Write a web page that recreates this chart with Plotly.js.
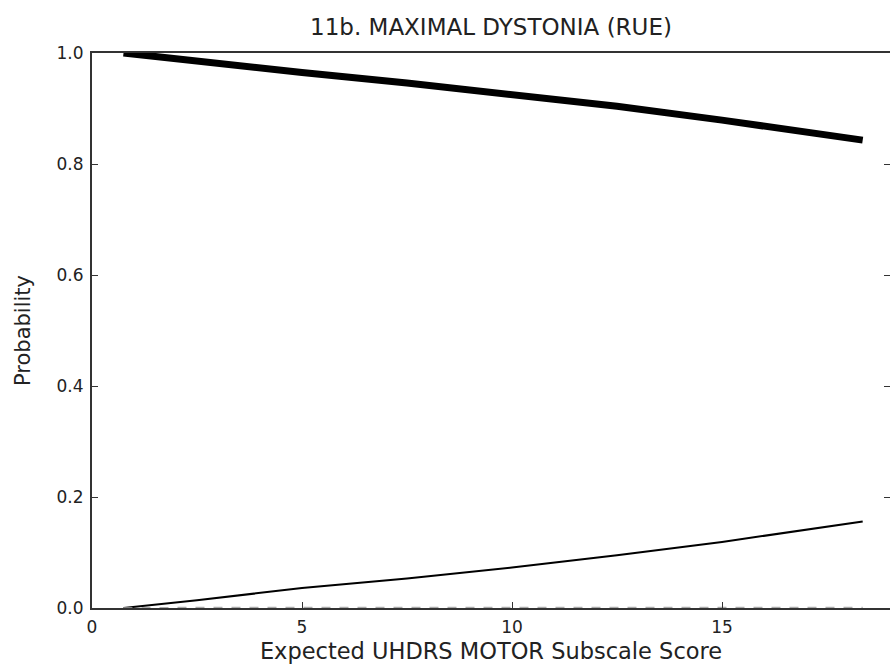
<!DOCTYPE html>
<html>
<head>
<meta charset="utf-8">
<script src="https://cdn.plot.ly/plotly-3.0.1.min.js"></script>
<style>
html,body{margin:0;padding:0;overflow:hidden;background:#fff;}
#chart{width:890px;height:669px;}
</style>
</head>
<body>
<div id="chart"></div>
<script>
// Expected UHDRS motor subscale score
const scoreX = [0.75, 2.5, 5, 7.5, 10, 12.5, 15, 18.35];
// Probability of category 0 (thick), 1 (thin), 2+ (dashed)
const probNone = [1.0, 0.985, 0.965, 0.946, 0.926, 0.904, 0.879, 0.843];
const probMild = [0.0, 0.014, 0.036, 0.053, 0.073, 0.095, 0.119, 0.156];
const probHigh = [0.0, 0.001, 0.001, 0.001, 0.001, 0.001, 0.001, 0.001];
const xTicks = [0, 5, 10, 15];
const yTicks = [0.0, 0.2, 0.4, 0.6, 0.8, 1.0];

const font = {family: '"DejaVu Sans", "Liberation Sans", Arial, sans-serif', color: '#222'};

const traces = [
  {x: scoreX, y: probNone, mode: 'lines', line: {color: '#000', width: 7}, hoverinfo: 'skip'},
  {x: scoreX, y: probMild, mode: 'lines', line: {color: '#000', width: 2}, hoverinfo: 'skip'},
  {x: scoreX, y: probHigh, mode: 'lines', line: {color: '#aaa', width: 1.5, dash: 'dash'}, hoverinfo: 'skip'}
];

const layout = {
  width: 890, height: 669,
  margin: {l: 92, r: 0, t: 53, b: 61},
  paper_bgcolor: '#fff', plot_bgcolor: '#fff',
  showlegend: false,
  font: Object.assign({size: 17}, font),
  title: {text: '11b. MAXIMAL DYSTONIA (RUE)', font: Object.assign({size: 23}, font),
          xref: 'paper', x: 0.5, xanchor: 'center', yref: 'container', y: 0.96, yanchor: 'middle'},
  xaxis: {
    range: [0, 19], tickvals: xTicks, ticktext: xTicks.map(String),
    ticks: 'inside', ticklen: 6, tickwidth: 1, tickcolor: '#333',
    showline: true, linecolor: '#333', linewidth: 2, mirror: true,
    showgrid: false, zeroline: false, ticklabelstandoff: 3,
    tickfont: Object.assign({size: 17}, font),
    title: {text: 'Expected UHDRS MOTOR Subscale Score', font: Object.assign({size: 22.5}, font), standoff: 7}
  },
  yaxis: {
    range: [0, 1], tickvals: yTicks, ticktext: yTicks.map(v => v.toFixed(1)),
    ticks: 'inside', ticklen: 6, tickwidth: 1, tickcolor: '#333',
    showline: true, linecolor: '#333', linewidth: 2, mirror: 'ticks',
    showgrid: false, zeroline: false, ticklabelstandoff: 3,
    tickfont: Object.assign({size: 17}, font),
    title: {text: 'Probability', font: Object.assign({size: 21}, font), standoff: 20}
  }
};

Plotly.newPlot('chart', traces, layout, {displayModeBar: false, staticPlot: true});
</script>
</body>
</html>
